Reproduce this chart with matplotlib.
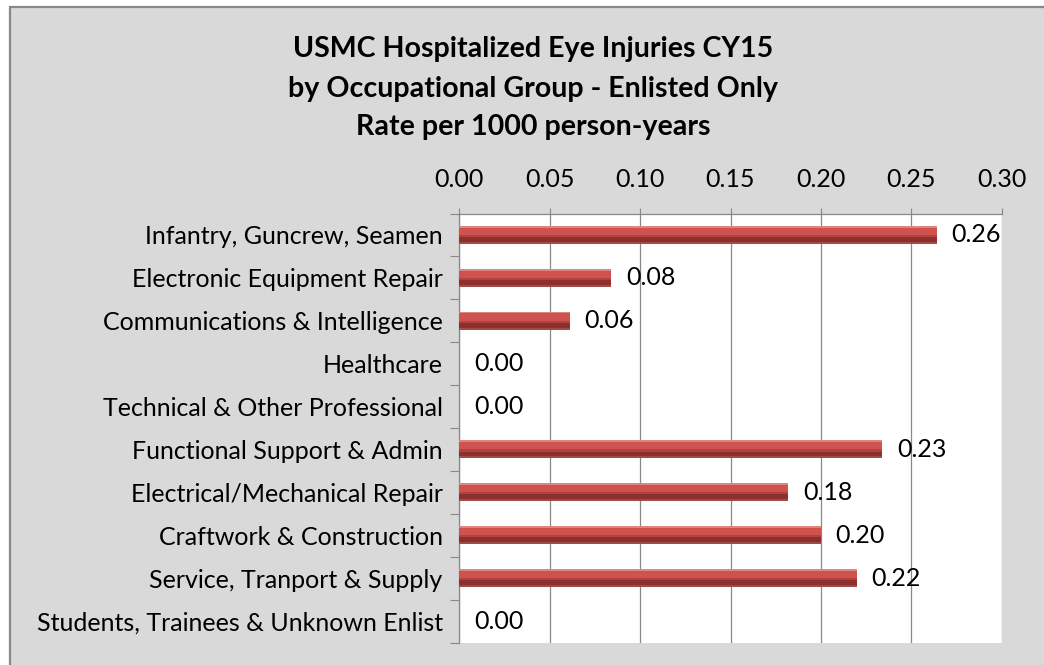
import matplotlib
matplotlib.use("Agg")
import matplotlib.pyplot as plt
from matplotlib.patches import Rectangle
import numpy as np

categories = [
    "Infantry, Guncrew, Seamen",
    "Electronic Equipment Repair",
    "Communications & Intelligence",
    "Healthcare",
    "Technical & Other Professional",
    "Functional Support & Admin",
    "Electrical/Mechanical Repair",
    "Craftwork & Construction",
    "Service, Tranport & Supply",
    "Students, Trainees & Unknown Enlist",
]
rates = [0.264, 0.084, 0.061, 0.0, 0.0, 0.234, 0.182, 0.200, 0.220, 0.0]
xticks = [0.00, 0.05, 0.10, 0.15, 0.20, 0.25, 0.30]
title_lines = [
    "USMC Hospitalized Eye Injuries CY15",
    "by Occupational Group - Enlisted Only",
    "Rate per 1000 person-years",
]

FONT = "Lato"
FS = 18
W, H = 1044, 665
fig = plt.figure(figsize=(W / 100, H / 100), dpi=100)
fig.patch.set_facecolor("white")

# chart area background with border
bg = Rectangle((10 / W, -0.2), 1.2, 1.2 - 7 / H, transform=fig.transFigure,
               facecolor="#D9D9D9", edgecolor="#888888", linewidth=1.6, zorder=-10)
fig.add_artist(bg)

ax = fig.add_axes([459.3 / W, 1 - 642.5 / H, 542.4 / W, 429 / H])
ax.set_zorder(1)
ax.set_facecolor("white")

y = np.arange(len(categories))
h = 0.42
# bevelled bar look built from horizontal slices (top -> bottom)
slices = [(0.00, 0.10, "#DE8580"), (0.10, 0.50, "#CF524E"), (0.50, 0.62, "#B3413E"),
          (0.62, 0.88, "#8C2F2D"), (0.88, 1.00, "#A24A48")]
for a, b, c in slices:
    ax.barh(y - h / 2 + h * (a + b) / 2, rates, height=h * (b - a) * 1.02,
            color=c, edgecolor="none", linewidth=0, zorder=3)

for yi, v in zip(y, rates):
    ax.annotate(f"{v:.2f}", xy=(v, yi), xytext=(10.5, 0), textcoords="offset points",
                va="center", ha="left", fontsize=FS, family=FONT, color="black", zorder=5)

ax.set_xlim(0, 0.30)
ax.set_ylim(len(categories) - 0.5, -0.5)
ax.xaxis.tick_top()
ax.set_xticks(xticks)
ax.set_xticklabels([f"{t:.2f}" for t in xticks], family=FONT, fontsize=FS)
ax.tick_params(axis="x", length=4.5, width=0.8, color="#888888", pad=12)
ax.grid(axis="x", color="#888888", linewidth=0.9, zorder=1)

ax.set_yticks(y)
ax.set_yticklabels(categories, family=FONT, fontsize=FS)
ax.set_yticks(np.arange(len(categories) + 1) - 0.5, minor=True)
ax.tick_params(axis="y", which="major", length=0, pad=12)
ax.tick_params(axis="y", which="minor", length=6.5, width=0.8, color="#888888")

for s in ["right", "bottom"]:
    ax.spines[s].set_visible(False)
for s in ["left", "top"]:
    ax.spines[s].set_color("#888888")
    ax.spines[s].set_linewidth(0.9)

baselines = [57, 97, 135]
for line, b in zip(title_lines, baselines):
    fig.text(533 / W, 1 - b / H, line, ha="center", va="baseline",
             family=FONT, fontweight="bold", fontsize=20.6)

fig.savefig("out.png", dpi=100)
